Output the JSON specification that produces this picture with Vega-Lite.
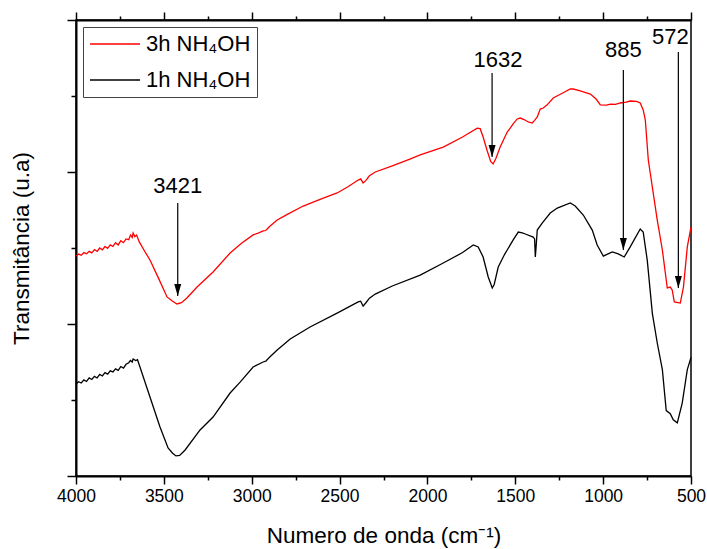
{
  "$schema": "https://vega.github.io/schema/vega-lite/v6.json",
  "width": 615,
  "height": 456,
  "autosize": {"type": "none"},
  "padding": {"left": 76, "top": 20, "right": 16, "bottom": 73},
  "config": {
    "font": "Liberation Sans",
    "view": {"stroke": "black", "strokeWidth": 1.5},
    "axis": {"domainColor": "black", "domainWidth": 2, "tickColor": "black", "tickWidth": 1.5, "grid": false, "labelColor": "black", "titleColor": "black", "titleFontWeight": "normal", "labelFont": "Liberation Sans", "titleFont": "Liberation Sans"}
  },
  "datasets": {
    "spectra": [
      {"wn":4000,"v":1.447,"s":"3h NH₄OH"},{"wn":3985,"v":1.46,"s":"3h NH₄OH"},{"wn":3970,"v":1.452,"s":"3h NH₄OH"},{"wn":3955,"v":1.47,"s":"3h NH₄OH"},{"wn":3940,"v":1.462,"s":"3h NH₄OH"},{"wn":3925,"v":1.478,"s":"3h NH₄OH"},{"wn":3910,"v":1.468,"s":"3h NH₄OH"},{"wn":3895,"v":1.49,"s":"3h NH₄OH"},{"wn":3880,"v":1.478,"s":"3h NH₄OH"},{"wn":3865,"v":1.5,"s":"3h NH₄OH"},{"wn":3850,"v":1.488,"s":"3h NH₄OH"},{"wn":3835,"v":1.51,"s":"3h NH₄OH"},{"wn":3820,"v":1.497,"s":"3h NH₄OH"},{"wn":3805,"v":1.52,"s":"3h NH₄OH"},{"wn":3790,"v":1.51,"s":"3h NH₄OH"},{"wn":3775,"v":1.535,"s":"3h NH₄OH"},{"wn":3760,"v":1.52,"s":"3h NH₄OH"},{"wn":3745,"v":1.548,"s":"3h NH₄OH"},{"wn":3730,"v":1.535,"s":"3h NH₄OH"},{"wn":3715,"v":1.56,"s":"3h NH₄OH"},{"wn":3700,"v":1.555,"s":"3h NH₄OH"},{"wn":3690,"v":1.585,"s":"3h NH₄OH"},{"wn":3680,"v":1.57,"s":"3h NH₄OH"},{"wn":3675,"v":1.599,"s":"3h NH₄OH"},{"wn":3665,"v":1.575,"s":"3h NH₄OH"},{"wn":3655,"v":1.585,"s":"3h NH₄OH"},{"wn":3640,"v":1.54,"s":"3h NH₄OH"},{"wn":3610,"v":1.48,"s":"3h NH₄OH"},{"wn":3579,"v":1.421,"s":"3h NH₄OH"},{"wn":3530,"v":1.3,"s":"3h NH₄OH"},{"wn":3482,"v":1.178,"s":"3h NH₄OH"},{"wn":3450,"v":1.15,"s":"3h NH₄OH"},{"wn":3425,"v":1.132,"s":"3h NH₄OH"},{"wn":3400,"v":1.14,"s":"3h NH₄OH"},{"wn":3370,"v":1.17,"s":"3h NH₄OH"},{"wn":3311,"v":1.243,"s":"3h NH₄OH"},{"wn":3220,"v":1.342,"s":"3h NH₄OH"},{"wn":3123,"v":1.467,"s":"3h NH₄OH"},{"wn":3060,"v":1.53,"s":"3h NH₄OH"},{"wn":2992,"v":1.586,"s":"3h NH₄OH"},{"wn":2960,"v":1.6,"s":"3h NH₄OH"},{"wn":2935,"v":1.612,"s":"3h NH₄OH"},{"wn":2920,"v":1.615,"s":"3h NH₄OH"},{"wn":2900,"v":1.64,"s":"3h NH₄OH"},{"wn":2855,"v":1.684,"s":"3h NH₄OH"},{"wn":2800,"v":1.72,"s":"3h NH₄OH"},{"wn":2707,"v":1.776,"s":"3h NH₄OH"},{"wn":2600,"v":1.825,"s":"3h NH₄OH"},{"wn":2514,"v":1.862,"s":"3h NH₄OH"},{"wn":2450,"v":1.905,"s":"3h NH₄OH"},{"wn":2394,"v":1.947,"s":"3h NH₄OH"},{"wn":2380,"v":1.955,"s":"3h NH₄OH"},{"wn":2366,"v":1.928,"s":"3h NH₄OH"},{"wn":2350,"v":1.945,"s":"3h NH₄OH"},{"wn":2330,"v":1.975,"s":"3h NH₄OH"},{"wn":2297,"v":2.0,"s":"3h NH₄OH"},{"wn":2200,"v":2.04,"s":"3h NH₄OH"},{"wn":2100,"v":2.085,"s":"3h NH₄OH"},{"wn":2041,"v":2.112,"s":"3h NH₄OH"},{"wn":1910,"v":2.164,"s":"3h NH₄OH"},{"wn":1800,"v":2.23,"s":"3h NH₄OH"},{"wn":1717,"v":2.289,"s":"3h NH₄OH"},{"wn":1700,"v":2.285,"s":"3h NH₄OH"},{"wn":1683,"v":2.23,"s":"3h NH₄OH"},{"wn":1660,"v":2.14,"s":"3h NH₄OH"},{"wn":1640,"v":2.07,"s":"3h NH₄OH"},{"wn":1626,"v":2.053,"s":"3h NH₄OH"},{"wn":1610,"v":2.09,"s":"3h NH₄OH"},{"wn":1586,"v":2.164,"s":"3h NH₄OH"},{"wn":1546,"v":2.263,"s":"3h NH₄OH"},{"wn":1529,"v":2.289,"s":"3h NH₄OH"},{"wn":1510,"v":2.32,"s":"3h NH₄OH"},{"wn":1489,"v":2.349,"s":"3h NH₄OH"},{"wn":1472,"v":2.355,"s":"3h NH₄OH"},{"wn":1450,"v":2.345,"s":"3h NH₄OH"},{"wn":1426,"v":2.329,"s":"3h NH₄OH"},{"wn":1404,"v":2.322,"s":"3h NH₄OH"},{"wn":1390,"v":2.34,"s":"3h NH₄OH"},{"wn":1375,"v":2.362,"s":"3h NH₄OH"},{"wn":1358,"v":2.414,"s":"3h NH₄OH"},{"wn":1341,"v":2.421,"s":"3h NH₄OH"},{"wn":1320,"v":2.44,"s":"3h NH₄OH"},{"wn":1284,"v":2.487,"s":"3h NH₄OH"},{"wn":1230,"v":2.52,"s":"3h NH₄OH"},{"wn":1187,"v":2.546,"s":"3h NH₄OH"},{"wn":1170,"v":2.546,"s":"3h NH₄OH"},{"wn":1130,"v":2.533,"s":"3h NH₄OH"},{"wn":1073,"v":2.513,"s":"3h NH₄OH"},{"wn":1040,"v":2.48,"s":"3h NH₄OH"},{"wn":1016,"v":2.441,"s":"3h NH₄OH"},{"wn":980,"v":2.44,"s":"3h NH₄OH"},{"wn":959,"v":2.447,"s":"3h NH₄OH"},{"wn":930,"v":2.445,"s":"3h NH₄OH"},{"wn":902,"v":2.454,"s":"3h NH₄OH"},{"wn":870,"v":2.46,"s":"3h NH₄OH"},{"wn":846,"v":2.467,"s":"3h NH₄OH"},{"wn":810,"v":2.465,"s":"3h NH₄OH"},{"wn":789,"v":2.454,"s":"3h NH₄OH"},{"wn":772,"v":2.408,"s":"3h NH₄OH"},{"wn":760,"v":2.342,"s":"3h NH₄OH"},{"wn":743,"v":2.079,"s":"3h NH₄OH"},{"wn":720,"v":1.9,"s":"3h NH₄OH"},{"wn":692,"v":1.684,"s":"3h NH₄OH"},{"wn":663,"v":1.487,"s":"3h NH₄OH"},{"wn":635,"v":1.237,"s":"3h NH₄OH"},{"wn":618,"v":1.243,"s":"3h NH₄OH"},{"wn":607,"v":1.224,"s":"3h NH₄OH"},{"wn":595,"v":1.145,"s":"3h NH₄OH"},{"wn":561,"v":1.138,"s":"3h NH₄OH"},{"wn":543,"v":1.243,"s":"3h NH₄OH"},{"wn":521,"v":1.507,"s":"3h NH₄OH"},{"wn":500,"v":1.638,"s":"3h NH₄OH"},
      {"wn":4000,"v":0.605,"s":"1h NH₄OH"},{"wn":3985,"v":0.62,"s":"1h NH₄OH"},{"wn":3970,"v":0.612,"s":"1h NH₄OH"},{"wn":3955,"v":0.632,"s":"1h NH₄OH"},{"wn":3940,"v":0.622,"s":"1h NH₄OH"},{"wn":3925,"v":0.645,"s":"1h NH₄OH"},{"wn":3910,"v":0.635,"s":"1h NH₄OH"},{"wn":3895,"v":0.655,"s":"1h NH₄OH"},{"wn":3880,"v":0.645,"s":"1h NH₄OH"},{"wn":3865,"v":0.668,"s":"1h NH₄OH"},{"wn":3850,"v":0.658,"s":"1h NH₄OH"},{"wn":3835,"v":0.68,"s":"1h NH₄OH"},{"wn":3820,"v":0.67,"s":"1h NH₄OH"},{"wn":3805,"v":0.692,"s":"1h NH₄OH"},{"wn":3790,"v":0.685,"s":"1h NH₄OH"},{"wn":3775,"v":0.705,"s":"1h NH₄OH"},{"wn":3760,"v":0.695,"s":"1h NH₄OH"},{"wn":3745,"v":0.72,"s":"1h NH₄OH"},{"wn":3730,"v":0.71,"s":"1h NH₄OH"},{"wn":3715,"v":0.735,"s":"1h NH₄OH"},{"wn":3700,"v":0.745,"s":"1h NH₄OH"},{"wn":3690,"v":0.76,"s":"1h NH₄OH"},{"wn":3680,"v":0.75,"s":"1h NH₄OH"},{"wn":3675,"v":0.77,"s":"1h NH₄OH"},{"wn":3660,"v":0.76,"s":"1h NH₄OH"},{"wn":3650,"v":0.765,"s":"1h NH₄OH"},{"wn":3636,"v":0.717,"s":"1h NH₄OH"},{"wn":3579,"v":0.52,"s":"1h NH₄OH"},{"wn":3522,"v":0.322,"s":"1h NH₄OH"},{"wn":3476,"v":0.184,"s":"1h NH₄OH"},{"wn":3450,"v":0.15,"s":"1h NH₄OH"},{"wn":3431,"v":0.132,"s":"1h NH₄OH"},{"wn":3410,"v":0.135,"s":"1h NH₄OH"},{"wn":3379,"v":0.171,"s":"1h NH₄OH"},{"wn":3294,"v":0.303,"s":"1h NH₄OH"},{"wn":3220,"v":0.388,"s":"1h NH₄OH"},{"wn":3123,"v":0.546,"s":"1h NH₄OH"},{"wn":3066,"v":0.618,"s":"1h NH₄OH"},{"wn":2992,"v":0.717,"s":"1h NH₄OH"},{"wn":2935,"v":0.75,"s":"1h NH₄OH"},{"wn":2920,"v":0.755,"s":"1h NH₄OH"},{"wn":2900,"v":0.78,"s":"1h NH₄OH"},{"wn":2855,"v":0.829,"s":"1h NH₄OH"},{"wn":2781,"v":0.901,"s":"1h NH₄OH"},{"wn":2668,"v":0.98,"s":"1h NH₄OH"},{"wn":2514,"v":1.072,"s":"1h NH₄OH"},{"wn":2394,"v":1.145,"s":"1h NH₄OH"},{"wn":2380,"v":1.15,"s":"1h NH₄OH"},{"wn":2366,"v":1.118,"s":"1h NH₄OH"},{"wn":2350,"v":1.14,"s":"1h NH₄OH"},{"wn":2330,"v":1.17,"s":"1h NH₄OH"},{"wn":2297,"v":1.197,"s":"1h NH₄OH"},{"wn":2200,"v":1.25,"s":"1h NH₄OH"},{"wn":2041,"v":1.322,"s":"1h NH₄OH"},{"wn":1910,"v":1.401,"s":"1h NH₄OH"},{"wn":1800,"v":1.47,"s":"1h NH₄OH"},{"wn":1739,"v":1.52,"s":"1h NH₄OH"},{"wn":1711,"v":1.507,"s":"1h NH₄OH"},{"wn":1683,"v":1.441,"s":"1h NH₄OH"},{"wn":1654,"v":1.309,"s":"1h NH₄OH"},{"wn":1631,"v":1.237,"s":"1h NH₄OH"},{"wn":1620,"v":1.26,"s":"1h NH₄OH"},{"wn":1597,"v":1.375,"s":"1h NH₄OH"},{"wn":1560,"v":1.46,"s":"1h NH₄OH"},{"wn":1546,"v":1.487,"s":"1h NH₄OH"},{"wn":1512,"v":1.553,"s":"1h NH₄OH"},{"wn":1483,"v":1.605,"s":"1h NH₄OH"},{"wn":1460,"v":1.6,"s":"1h NH₄OH"},{"wn":1443,"v":1.592,"s":"1h NH₄OH"},{"wn":1398,"v":1.572,"s":"1h NH₄OH"},{"wn":1390,"v":1.56,"s":"1h NH₄OH"},{"wn":1386,"v":1.441,"s":"1h NH₄OH"},{"wn":1382,"v":1.5,"s":"1h NH₄OH"},{"wn":1375,"v":1.618,"s":"1h NH₄OH"},{"wn":1347,"v":1.664,"s":"1h NH₄OH"},{"wn":1301,"v":1.73,"s":"1h NH₄OH"},{"wn":1261,"v":1.763,"s":"1h NH₄OH"},{"wn":1187,"v":1.796,"s":"1h NH₄OH"},{"wn":1159,"v":1.776,"s":"1h NH₄OH"},{"wn":1113,"v":1.717,"s":"1h NH₄OH"},{"wn":1062,"v":1.618,"s":"1h NH₄OH"},{"wn":1034,"v":1.52,"s":"1h NH₄OH"},{"wn":999,"v":1.447,"s":"1h NH₄OH"},{"wn":975,"v":1.46,"s":"1h NH₄OH"},{"wn":948,"v":1.474,"s":"1h NH₄OH"},{"wn":914,"v":1.461,"s":"1h NH₄OH"},{"wn":880,"v":1.441,"s":"1h NH₄OH"},{"wn":846,"v":1.507,"s":"1h NH₄OH"},{"wn":789,"v":1.625,"s":"1h NH₄OH"},{"wn":772,"v":1.605,"s":"1h NH₄OH"},{"wn":749,"v":1.42,"s":"1h NH₄OH"},{"wn":720,"v":1.07,"s":"1h NH₄OH"},{"wn":692,"v":0.875,"s":"1h NH₄OH"},{"wn":663,"v":0.7,"s":"1h NH₄OH"},{"wn":641,"v":0.43,"s":"1h NH₄OH"},{"wn":618,"v":0.41,"s":"1h NH₄OH"},{"wn":601,"v":0.37,"s":"1h NH₄OH"},{"wn":578,"v":0.35,"s":"1h NH₄OH"},{"wn":550,"v":0.48,"s":"1h NH₄OH"},{"wn":521,"v":0.7,"s":"1h NH₄OH"},{"wn":500,"v":0.78,"s":"1h NH₄OH"}
    ],
    "notes": [
      {"label":"3421","wn":3421,"tx":3421,"ytext":1.908,"ytop":1.796,"ytip":1.184},
      {"label":"1632","wn":1632,"tx":1598,"ytext":2.737,"ytop":2.651,"ytip":2.099},
      {"label":"885","wn":885,"tx":885,"ytext":2.803,"ytop":2.671,"ytip":1.487},
      {"label":"572","wn":572,"tx":617,"ytext":2.888,"ytop":2.789,"ytip":1.237}
    ]
  },
  "layer": [
    {
      "data": {"name": "spectra"},
      "mark": {"type": "line", "strokeWidth": 1.3},
      "encoding": {
        "x": {"field": "wn", "type": "quantitative",
          "scale": {"domain": [500, 4000], "reverse": true, "nice": false, "zero": false},
          "axis": {"orient": "bottom", "values": [500,750,1000,1250,1500,1750,2000,2250,2500,2750,3000,3250,3500,3750,4000],
            "labelExpr": "datum.value % 500 === 0 ? datum.label : ''",
            "format": "d", "labelFlush": false, "labelOverlap": false,
            "tickSize": {"condition": {"test": "datum.value % 500 === 0", "value": 8}, "value": 4},
            "labelFontSize": 17.5, "labelPadding": 3,
            "title": "Numero de onda (cm⁻¹)", "titleFontSize": 22.5, "titlePadding": 20}},
        "y": {"field": "v", "type": "quantitative",
          "scale": {"domain": [0, 3], "nice": false, "zero": false},
          "axis": {"orient": "left", "values": [0,0.5,1,1.5,2,2.5,3], "labels": false,
            "tickSize": {"condition": {"test": "datum.value % 1 === 0", "value": 9}, "value": 5},
            "title": "Transmitância (u.a)", "titleFontSize": 22.5, "titlePadding": 33}},
        "color": {"field": "s", "type": "nominal",
          "scale": {"domain": ["3h NH₄OH", "1h NH₄OH"], "range": ["#ff0000", "#000000"]},
          "legend": {"orient": "none", "legendX": 7, "legendY": 7, "title": null, "symbolType": "M-1,0L4,0", "symbolSize": 400, "symbolStrokeWidth": 1.5, "labelFontSize": 22, "labelFont": "Liberation Sans", "labelColor": "black", "labelOffset": 35, "padding": 6, "rowPadding": 14, "strokeColor": "#444", "fillColor": "white"}}
      }
    },
    {
      "data": {"name": "notes"},
      "mark": {"type": "rule", "strokeWidth": 1.2, "color": "black"},
      "encoding": {
        "x": {"field": "wn", "type": "quantitative", "scale": {"domain": [500, 4000], "reverse": true, "nice": false, "zero": false}, "axis": null},
        "y": {"field": "ytop", "type": "quantitative", "scale": {"domain": [0, 3], "nice": false, "zero": false}, "axis": null},
        "y2": {"field": "ytip"}
      }
    },
    {
      "data": {"name": "notes"},
      "mark": {"type": "point", "shape": "M-0.875,-3L0.875,-3L0,0Z", "size": 64, "filled": true, "color": "black", "opacity": 1, "strokeWidth": 0},
      "encoding": {
        "x": {"field": "wn", "type": "quantitative", "scale": {"domain": [500, 4000], "reverse": true, "nice": false, "zero": false}, "axis": null},
        "y": {"field": "ytip", "type": "quantitative", "scale": {"domain": [0, 3], "nice": false, "zero": false}, "axis": null}
      }
    },
    {
      "data": {"name": "notes"},
      "mark": {"type": "text", "fontSize": 22, "font": "Liberation Sans", "color": "black", "baseline": "middle", "align": "center"},
      "encoding": {
        "x": {"field": "tx", "type": "quantitative", "scale": {"domain": [500, 4000], "reverse": true, "nice": false, "zero": false}, "axis": null},
        "y": {"field": "ytext", "type": "quantitative", "scale": {"domain": [0, 3], "nice": false, "zero": false}, "axis": null},
        "text": {"field": "label"}
      }
    },
    {
      "data": {"name": "notes"},
      "mark": {"type": "rule", "opacity": 0},
      "encoding": {
        "x": {"field": "wn", "type": "quantitative", "scale": {"domain": [500, 4000], "reverse": true, "nice": false, "zero": false},
          "axis": {"orient": "top", "values": [500,750,1000,1250,1500,1750,2000,2250,2500,2750,3000,3250,3500,3750,4000], "labels": false, "title": null,
            "tickSize": {"condition": {"test": "datum.value % 500 === 0", "value": 8}, "value": 4}}}
      }
    }
  ],
  "resolve": {"axis": {"x": "independent", "y": "independent"}}
}
